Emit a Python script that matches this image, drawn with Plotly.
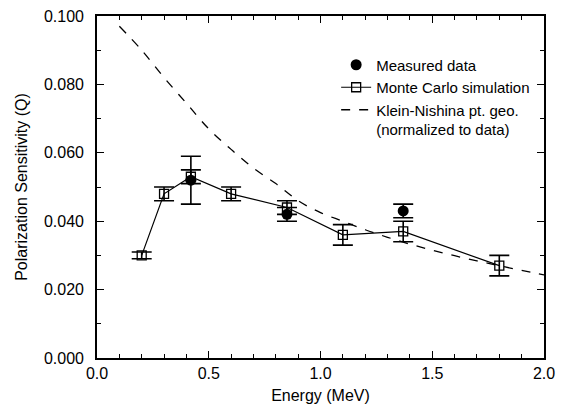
import plotly.graph_objects as go

# Monte Carlo simulation
mc_energy = [0.2, 0.3, 0.42, 0.6, 0.85, 1.1, 1.37, 1.8]
mc_q = [0.030, 0.048, 0.053, 0.048, 0.044, 0.036, 0.037, 0.027]
mc_err = [0.001, 0.002, 0.002, 0.002, 0.002, 0.003, 0.003, 0.003]

# Measured data
meas_energy = [0.42, 0.85, 1.37]
meas_q = [0.052, 0.042, 0.043]
meas_err = [0.007, 0.002, 0.002]

# Klein-Nishina point geometry (normalized to data)
kn_energy = [0.1, 0.2, 0.3, 0.4, 0.5, 0.6, 0.7, 0.8, 0.9, 1.0,
             1.1, 1.2, 1.3, 1.4, 1.5, 1.6, 1.7, 1.8, 1.9, 2.0]
kn_q = [0.097, 0.090, 0.082, 0.0745, 0.067, 0.061, 0.0555, 0.051, 0.046, 0.0425,
        0.040, 0.0375, 0.0353, 0.0333, 0.0315, 0.0299, 0.0284, 0.0270, 0.0256, 0.0243]

x_ticks = [0.0, 0.5, 1.0, 1.5, 2.0]
y_ticks = [0.000, 0.020, 0.040, 0.060, 0.080, 0.100]

FONT = "Liberation Sans, Arial, Helvetica, sans-serif"

fig = go.Figure()

fig.add_trace(go.Scatter(
    x=kn_energy, y=kn_q, mode="lines", line_shape="spline",
    line=dict(color="black", width=1.3, dash="dash"),
    name="Klein-Nishina pt. geo.<br>(normalized to data)", legendrank=3,
))

fig.add_trace(go.Scatter(
    x=mc_energy, y=mc_q, mode="lines+markers",
    line=dict(color="black", width=1.2),
    marker=dict(symbol="square-open", size=9, color="black", line=dict(width=1.3)),
    error_y=dict(type="data", array=mc_err, color="black", thickness=1.6, width=10),
    name="Monte Carlo simulation", legendrank=2,
))

fig.add_trace(go.Scatter(
    x=meas_energy, y=meas_q, mode="markers",
    marker=dict(symbol="circle", size=11, color="black"),
    error_y=dict(type="data", array=meas_err, color="black", thickness=1.6, width=10),
    name="Measured data", legendrank=1,
))

axis_common = dict(
    showline=True, linecolor="black", linewidth=1.6, mirror="ticks",
    ticks="inside", ticklen=7, tickwidth=1.3, tickcolor="black",
    showgrid=False, zeroline=False, automargin=False,
    tickfont=dict(family=FONT, size=16, color="black"),
)

fig.update_xaxes(
    range=[0, 2.0], tickvals=x_ticks, tickformat=".1f",
    minor=dict(dtick=0.1, ticks="inside", ticklen=4, tickwidth=1, tickcolor="black"),
    title=dict(text="Energy (MeV)", font=dict(family=FONT, size=16, color="black"), standoff=9),
    **axis_common,
)
fig.update_yaxes(
    range=[0, 0.1], tickvals=y_ticks, tickformat=".3f",
    minor=dict(dtick=0.01, ticks="inside", ticklen=4, tickwidth=1, tickcolor="black"),
    title=dict(text="Polarization Sensitivity (Q)", font=dict(family=FONT, size=16, color="black"), standoff=12),
    ticklabelstandoff=8,
    **axis_common,
)

fig.update_layout(
    width=563, height=406,
    margin=dict(l=97, r=19, t=16, b=48),
    paper_bgcolor="white", plot_bgcolor="white",
    font=dict(family=FONT, size=16, color="black"),
    showlegend=True,
    legend=dict(
        x=0.535, y=0.905, xanchor="left", yanchor="top",
        bgcolor="rgba(0,0,0,0)", borderwidth=0,
        font=dict(family=FONT, size=15, color="black"),
        valign="top", tracegroupgap=0, itemwidth=30,
    ),
)

fig.write_html("out.html")
